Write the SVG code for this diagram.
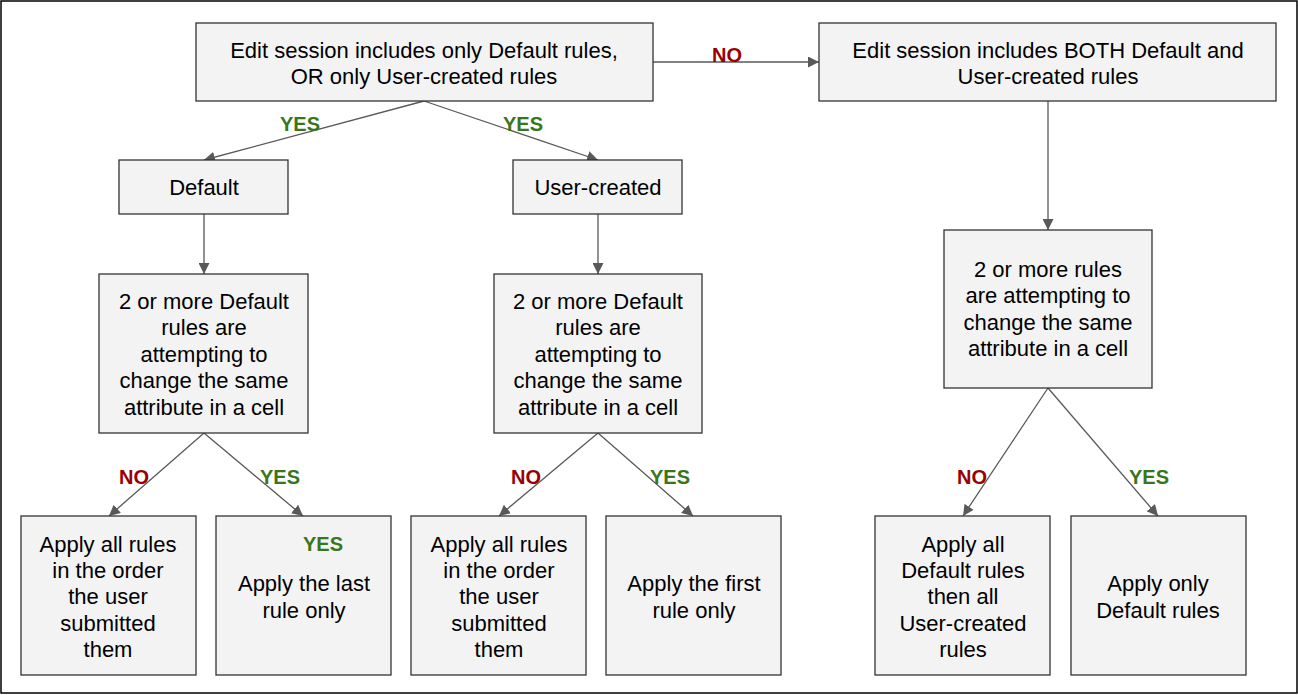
<svg xmlns="http://www.w3.org/2000/svg" width="1298" height="695" viewBox="0 0 1298 695">
<style>
.b{fill:#f3f3f3;stroke:#333;stroke-width:1.3}
.t{font-family:"Liberation Sans",Arial,sans-serif;font-size:22px;fill:#000;text-anchor:middle}
.c{stroke:#595959;stroke-width:1.3;fill:none;marker-end:url(#ah)}
.y{font-family:"Liberation Sans",Arial,sans-serif;font-size:20px;font-weight:bold;fill:#38761d;text-anchor:middle}
.n{font-family:"Liberation Sans",Arial,sans-serif;font-size:20px;font-weight:bold;fill:#990000;text-anchor:middle}
</style>
<defs>
<marker id="ah" viewBox="0 0 10 10" refX="10" refY="5" markerWidth="11" markerHeight="11" markerUnits="userSpaceOnUse" orient="auto">
<path d="M0,0 L10,5 L0,10 Z" fill="#595959"/>
</marker>
</defs>
<rect x="0" y="0" width="1298" height="695" fill="#fff"/>
<rect x="1" y="1" width="1296" height="692" fill="none" stroke="#000" stroke-width="1.5"/>
<g id="connectors">
<line class="c" x1="653" y1="62" x2="819" y2="62"/>
<line class="c" x1="424" y1="101" x2="204" y2="160"/>
<line class="c" x1="424" y1="101" x2="598" y2="160"/>
<line class="c" x1="204" y1="214" x2="204" y2="274"/>
<line class="c" x1="598" y1="214" x2="598" y2="274"/>
<line class="c" x1="1048" y1="101" x2="1048" y2="230"/>
<line class="c" x1="204" y1="433" x2="109" y2="516"/>
<line class="c" x1="204" y1="433" x2="303" y2="516"/>
<line class="c" x1="598" y1="433" x2="499" y2="516"/>
<line class="c" x1="598" y1="433" x2="693" y2="516"/>
<line class="c" x1="1048" y1="388" x2="963" y2="516"/>
<line class="c" x1="1048" y1="388" x2="1158" y2="516"/>
<text class="n" x="727" y="62">NO</text>
<text class="y" x="300" y="131">YES</text>
<text class="y" x="523" y="131">YES</text>
<text class="n" x="134" y="484">NO</text>
<text class="y" x="280" y="484">YES</text>
<text class="n" x="526" y="484">NO</text>
<text class="y" x="670" y="484">YES</text>
<text class="n" x="972" y="484">NO</text>
<text class="y" x="1149" y="484">YES</text>
</g>
<g id="start">
<rect class="b" x="196" y="23" width="457" height="78"/>
<text class="t" x="424" y="58">Edit session includes only Default rules,</text>
<text class="t" x="424" y="84">OR only User-created rules</text>
</g>
<g id="both">
<rect class="b" x="819" y="23" width="457" height="78"/>
<text class="t" x="1048" y="58">Edit session includes BOTH Default and</text>
<text class="t" x="1048" y="84">User-created rules</text>
</g>
<g id="default">
<rect class="b" x="119" y="160" width="169" height="54"/>
<text class="t" x="204" y="195">Default</text>
</g>
<g id="usercreated">
<rect class="b" x="513" y="160" width="169" height="54"/>
<text class="t" x="598" y="195">User-created</text>
</g>
<g id="q1">
<rect class="b" x="99" y="274" width="209" height="159"/>
<text class="t" x="204" y="309">2 or more Default</text>
<text class="t" x="204" y="335">rules are</text>
<text class="t" x="204" y="362">attempting to</text>
<text class="t" x="204" y="388">change the same</text>
<text class="t" x="204" y="415">attribute in a cell</text>
</g>
<g id="q2">
<rect class="b" x="494" y="274" width="208" height="159"/>
<text class="t" x="598" y="309">2 or more Default</text>
<text class="t" x="598" y="335">rules are</text>
<text class="t" x="598" y="362">attempting to</text>
<text class="t" x="598" y="388">change the same</text>
<text class="t" x="598" y="415">attribute in a cell</text>
</g>
<g id="q3">
<rect class="b" x="944" y="230" width="208" height="158"/>
<text class="t" x="1048" y="277">2 or more rules</text>
<text class="t" x="1048" y="303">are attempting to</text>
<text class="t" x="1048" y="330">change the same</text>
<text class="t" x="1048" y="356">attribute in a cell</text>
</g>
<g id="r1">
<rect class="b" x="21" y="516" width="175" height="159"/>
<text class="t" x="108" y="552">Apply all rules</text>
<text class="t" x="108" y="578">in the order</text>
<text class="t" x="108" y="604">the user</text>
<text class="t" x="108" y="631">submitted</text>
<text class="t" x="108" y="657">them</text>
</g>
<g id="r2">
<rect class="b" x="216" y="516" width="175" height="159"/>
<text class="y" x="323" y="551">YES</text>
<text class="t" x="304" y="591">Apply the last</text>
<text class="t" x="304" y="618">rule only</text>
</g>
<g id="r3">
<rect class="b" x="411" y="516" width="175" height="159"/>
<text class="t" x="499" y="552">Apply all rules</text>
<text class="t" x="499" y="578">in the order</text>
<text class="t" x="499" y="604">the user</text>
<text class="t" x="499" y="631">submitted</text>
<text class="t" x="499" y="657">them</text>
</g>
<g id="r4">
<rect class="b" x="606" y="516" width="175" height="159"/>
<text class="t" x="694" y="591">Apply the first</text>
<text class="t" x="694" y="618">rule only</text>
</g>
<g id="r5">
<rect class="b" x="875" y="516" width="175" height="159"/>
<text class="t" x="963" y="552">Apply all</text>
<text class="t" x="963" y="578">Default rules</text>
<text class="t" x="963" y="604">then all</text>
<text class="t" x="963" y="631">User-created</text>
<text class="t" x="963" y="657">rules</text>
</g>
<g id="r6">
<rect class="b" x="1071" y="516" width="175" height="159"/>
<text class="t" x="1158" y="591">Apply only</text>
<text class="t" x="1158" y="618">Default rules</text>
</g>
</svg>
